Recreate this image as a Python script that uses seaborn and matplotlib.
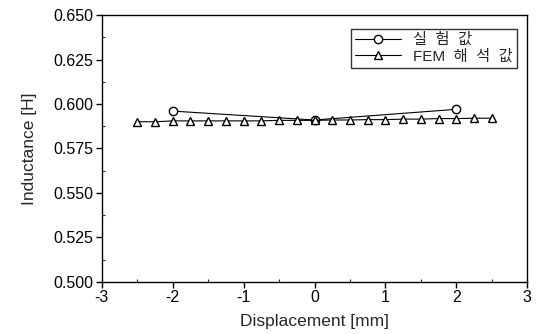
import matplotlib
matplotlib.use("Agg")
import matplotlib.pyplot as plt
import seaborn as sns
import pandas as pd
from matplotlib.ticker import MultipleLocator, FormatStrFormatter

exp_x = [-2.0, 0.0, 2.0]
exp_y = [0.596, 0.591, 0.597]
fem_x = [-2.5, -2.25, -2.0, -1.75, -1.5, -1.25, -1.0, -0.75, -0.5, -0.25, 0.0,
         0.25, 0.5, 0.75, 1.0, 1.25, 1.5, 1.75, 2.0, 2.25, 2.5]
fem_y = [0.5900, 0.5900, 0.5905, 0.5905, 0.5905, 0.5905, 0.5905, 0.5905, 0.5908, 0.5908, 0.5908,
         0.5910, 0.5910, 0.5912, 0.5912, 0.5915, 0.5915, 0.5918, 0.5918, 0.5920, 0.5920]
labels = ["실  험  값", "FEM  해  석  값"]

sns.set_style("white")
plt.rcParams['font.family'] = ['Liberation Sans', 'Noto Sans CJK KR', 'DejaVu Sans']
plt.rcParams['axes.unicode_minus'] = False

df = pd.concat([
    pd.DataFrame({"x": exp_x, "y": exp_y, "s": labels[0]}),
    pd.DataFrame({"x": fem_x, "y": fem_y, "s": labels[1]}),
])

fig = plt.figure(figsize=(5.39, 3.34), dpi=100)
ax = fig.add_axes([0.189, 0.156, 0.789, 0.799])
sns.lineplot(data=df, x="x", y="y", hue="s", style="s", markers=["o", "^"], dashes=False,
             palette=["black", "black"], linewidth=0.8, markersize=6,
             markerfacecolor="white", markeredgecolor="black", markeredgewidth=1.0, ax=ax)

ax.set_xlim(-3, 3)
ax.set_ylim(0.5, 0.65)
ax.xaxis.set_major_locator(MultipleLocator(1))
ax.xaxis.set_minor_locator(MultipleLocator(0.5))
ax.yaxis.set_major_locator(MultipleLocator(0.025))
ax.yaxis.set_minor_locator(MultipleLocator(0.0125))
ax.yaxis.set_major_formatter(FormatStrFormatter('%.3f'))
ax.tick_params(which='major', direction='out', length=4, width=1, labelsize=11.5, colors='black',
               bottom=True, left=True, pad=2)
ax.tick_params(which='minor', direction='in', length=2.5, width=0.8, bottom=True, left=True)
for sp in ax.spines.values():
    sp.set_color('black')
    sp.set_linewidth(1.0)
ax.set_xlabel("Displacement [mm]", fontsize=12.5, labelpad=6)
ax.set_ylabel("Inductance [H]", fontsize=12.5, labelpad=12)

leg = ax.legend(loc="upper right", frameon=True, fancybox=False, edgecolor="black",
                fontsize=11, handlelength=3.0, borderpad=0.3, labelspacing=0.15,
                handletextpad=0.8, bbox_to_anchor=(0.995, 0.978))
leg.get_frame().set_linewidth(1.0)

fig.savefig("out.png", dpi=100)
